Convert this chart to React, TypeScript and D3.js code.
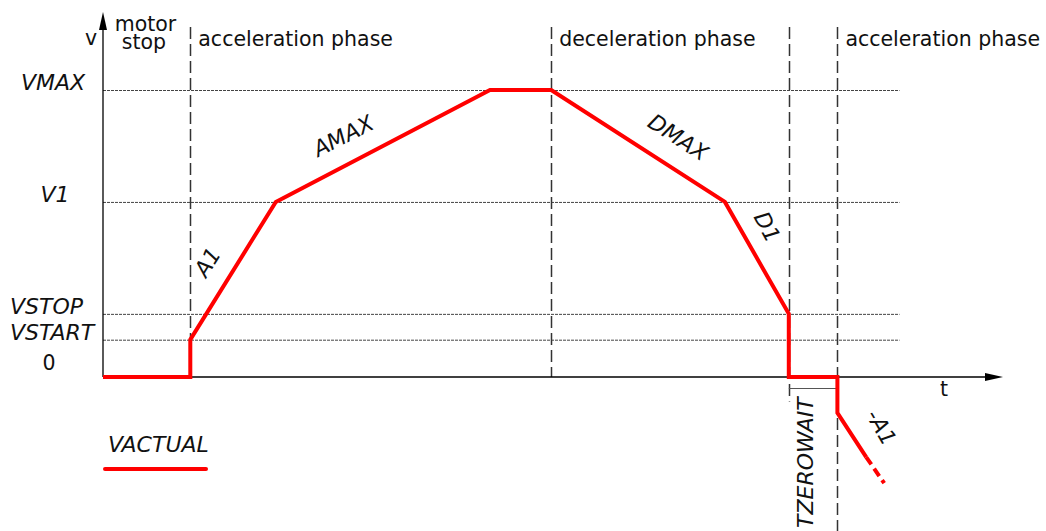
import * as d3 from "d3";

// velocity levels (arbitrary units, VMAX = 100)
const levelNames = ["VMAX", "V1", "VSTOP", "VSTART"];
const levelValues = [100, 61, 22, 13];

// ramp profile VACTUAL: time / velocity
const profileT = [0, 9.7, 9.7, 19.2, 43, 49.8, 69.1, 76.2, 76.2, 81.6, 81.6, 84.8];
const profileV = [0, 0, 13, 61, 100, 100, 61, 22, 0, 0, -12.5, -27.9];
// dashed continuation of -A1
const tailT = [84.8, 86.8];
const tailV = [-27.9, -37];

// phase boundaries
const phaseT = [9.7, 49.8, 76.2, 81.6];
const phaseBottom = [0, 0, -8.5, -54];
const phaseLabels = ["acceleration phase", "deceleration phase", "", "acceleration phase"];

// slope labels: text, t, v, angle
const slopeText = ["A1", "AMAX", "DMAX", "D1", "-A1"];
const slopeT = [11.6, 26.7, 63.9, 73.8, 86.5];
const slopeV = [40, 84, 83.5, 52.3, -17.5];
const slopeAngle = [-58, -27, 33, 62, 60];

const W = 1046;
const H = 531;
const font = "DejaVu Sans, Verdana, sans-serif";

export default function App() {
  const x = d3.scaleLinear().domain([0, 100]).range([103, 1003]);
  const y = d3.scaleLinear().domain([0, 100]).range([377, 90]);

  const line = d3
    .line<number>()
    .x((_, i) => x(profileT[i]))
    .y((d) => y(d));
  const tailLine = d3
    .line<number>()
    .x((_, i) => x(tailT[i]))
    .y((d) => y(d));

  const yTop = 12;
  const italic = 22;
  const normal = 20.5;

  return (
    <svg
      width={W}
      height={H}
      viewBox={`0 0 ${W} ${H}`}
      style={{ position: "absolute", left: 0, top: 0, display: "block", background: "#fff" }}
      fontFamily={font}
    >
      {/* level lines */}
      <g stroke="#444" strokeWidth={1} strokeDasharray="3,1">
        {levelValues.map((v, i) => (
          <line key={i} x1={x(0)} x2={x(88.5)} y1={y(v) + 0.5} y2={y(v) + 0.5} />
        ))}
      </g>
      {/* level labels */}
      <g fontStyle="italic" fontSize={italic} fill="#111">
        {levelNames.map((n, i) => {
          const centred = n === "VMAX" || n === "V1";
          return (
            <text
              key={n}
              x={n === "VMAX" ? 53 : n === "V1" ? 55 : 10}
              y={y(levelValues[i])}
              textAnchor={centred ? "middle" : "start"}
            >
              {n}
            </text>
          );
        })}
      </g>
      <text x={49} y={370} fontSize={normal} textAnchor="middle" fill="#111">0</text>

      {/* phase boundaries */}
      <g stroke="#333" strokeWidth={1.5} strokeDasharray="12,5">
        {phaseT.map((t, i) => (
          <line
            key={i}
            x1={Math.round(x(t)) + 0.5}
            x2={Math.round(x(t)) + 0.5}
            y1={27}
            y2={y(phaseBottom[i])}
          />
        ))}
      </g>
      <g fontSize={normal} fill="#111">
        {phaseLabels.map((p, i) =>
          p ? (
            <text key={i} x={x(phaseT[i]) + 8} y={46}>
              {p}
            </text>
          ) : null
        )}
        <text x={145.5} y={31} textAnchor="middle">motor</text>
        <text x={144} y={49} textAnchor="middle">stop</text>
        <text x={91} y={45} textAnchor="middle">v</text>
        <text x={944} y={396} textAnchor="middle">t</text>
      </g>

      {/* axes */}
      <g stroke="#000" strokeWidth={1.3}>
        <line x1={x(0)} x2={x(0)} y1={y(0)} y2={yTop + 8} />
        <line x1={x(0)} x2={x(100) - 10} y1={y(0)} y2={y(0)} />
      </g>
      <path d={`M${x(0)},${yTop} L${x(0) - 4},${yTop + 18} L${x(0) + 4},${yTop + 18} Z`} fill="#000" />
      <path d={`M${x(100)},${y(0)} L${x(100) - 18},${y(0) - 4} L${x(100) - 18},${y(0) + 4} Z`} fill="#000" />

      {/* TZEROWAIT bracket */}
      <line x1={x(76.2)} x2={x(81.6)} y1={388.5} y2={388.5} stroke="#555" strokeWidth={1} />
      <text
        transform={`translate(${813},${528}) rotate(-90)`}
        fontSize={italic}
        fontStyle="italic"
        fill="#111"
      >
        TZEROWAIT
      </text>

      {/* VACTUAL */}
      <path d={line(profileV) ?? ""} fill="none" stroke="#ff0000" strokeWidth={4} strokeLinejoin="miter" />
      <path
        d={tailLine(tailV) ?? ""}
        fill="none"
        stroke="#ff0000"
        strokeWidth={4}
        strokeDasharray="9,5"
      />

      {/* slope labels */}
      <g fontStyle="italic" fontSize={italic} fill="#111" textAnchor="middle">
        {slopeText.map((s, i) => (
          <text
            key={s}
            transform={`translate(${x(slopeT[i])},${y(slopeV[i])}) rotate(${slopeAngle[i]})`}
            dy="0.35em"
          >
            {s}
          </text>
        ))}
      </g>

      {/* legend */}
      <text x={108} y={452} fontSize={italic} fontStyle="italic" fill="#111">VACTUAL</text>
      <line x1={105} x2={206} y1={469} y2={469} stroke="#ff0000" strokeWidth={4} strokeLinecap="round" />
    </svg>
  );
}
